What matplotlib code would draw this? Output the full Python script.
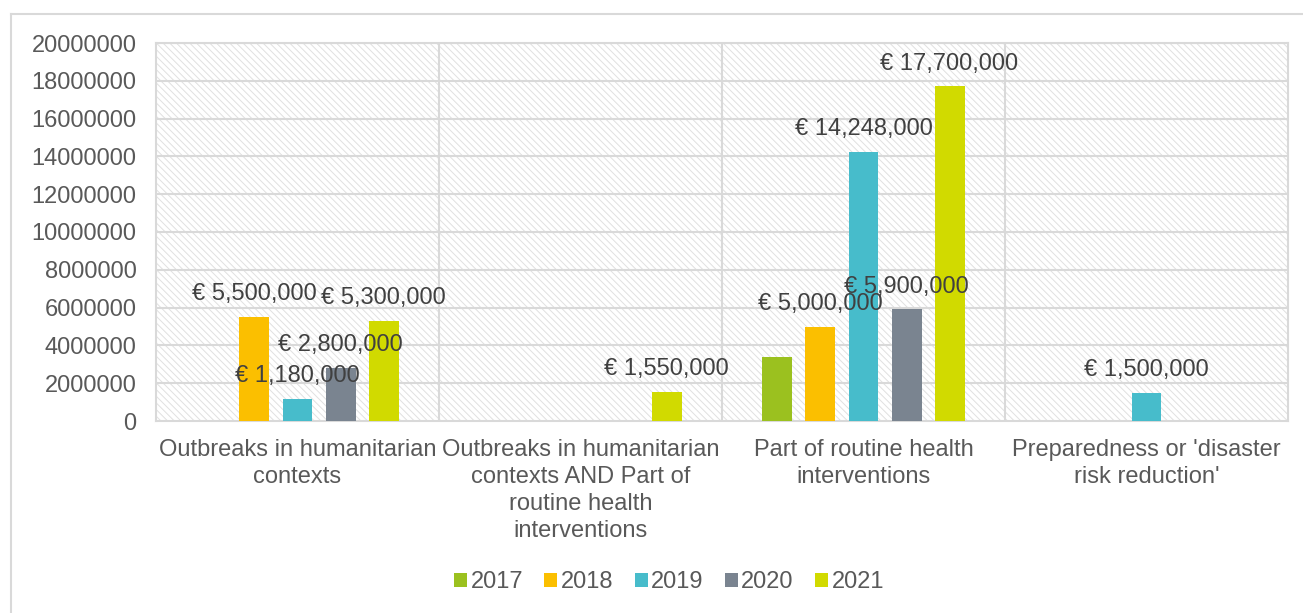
import numpy as np
import matplotlib
matplotlib.use('Agg')
import matplotlib.pyplot as plt
from matplotlib.lines import Line2D

plt.rcParams['font.family'] = ['Liberation Sans', 'DejaVu Sans']
plt.rcParams['hatch.color'] = '#e0e0e0'
plt.rcParams['hatch.linewidth'] = 0.7

categories = ["Outbreaks in humanitarian\ncontexts",
              "Outbreaks in humanitarian\ncontexts AND Part of\nroutine health\ninterventions",
              "Part of routine health\ninterventions",
              "Preparedness or 'disaster\nrisk reduction'"]
years = ['2017', '2018', '2019', '2020', '2021']
v2017 = [0, 0, 3400000, 0]
v2018 = [5500000, 0, 5000000, 0]
v2019 = [1180000, 0, 14248000, 1500000]
v2020 = [2800000, 0, 5900000, 0]
v2021 = [5300000, 1550000, 17700000, 0]
values = [v2017, v2018, v2019, v2020, v2021]
# the 2017 bar carries no label in the original
show_label = [False, True, True, True, True]
colors = ['#9BC11F', '#FBBF00', '#47BCCB', '#7A8490', '#D1DA00']

fs = 17

fig = plt.figure(figsize=(13.03, 6.13), dpi=100)
ax = fig.add_axes([156/1303, 192/613, 1132/1303, 378/613])

# outer frame (top and left only visible)
fig.add_artist(Line2D([11/1303, 11/1303], [0, 1 - 14/613], color='#d9d9d9', lw=1.5,
                      transform=fig.transFigure))
fig.add_artist(Line2D([11/1303, 1], [1 - 14/613, 1 - 14/613], color='#d9d9d9', lw=1.5,
                      transform=fig.transFigure))

ax.patch.set_facecolor('white')
ax.patch.set_hatch('\\\\\\\\\\')
ax.patch.set_edgecolor('#e0e0e0')
ax.patch.set_linewidth(0)

x = np.arange(len(categories))
step = 0.152
width = 0.106
for i, (yr, vals, col) in enumerate(zip(years, values, colors)):
    pos = x + (i - 2) * step
    ax.bar(pos, vals, width, color=col, label=yr, zorder=3)
    if show_label[i]:
        for p, v in zip(pos, vals):
            if v > 0:
                ax.annotate('€ {:,}'.format(v), (p, v), xytext=(0, 12),
                            textcoords='offset points', ha='center', va='baseline',
                            fontsize=fs, color='#404040', zorder=5)

ax.set_xlim(-0.5, 3.5)
ax.set_ylim(0, 20000000)
ax.set_yticks(np.arange(0, 20000001, 2000000))
ax.set_yticklabels([str(t) for t in range(0, 20000001, 2000000)])
ax.set_xticks(x)
ax.set_xticklabels(categories, linespacing=1.3)
ax.tick_params(axis='both', length=0, labelsize=fs, labelcolor='#595959')
ax.tick_params(axis='x', pad=13)
ax.tick_params(axis='y', pad=14)

for yv in range(2000000, 20000001, 2000000):
    ax.axhline(yv, color='#d9d9d9', lw=1.5, zorder=1)
for xv in [0.5, 1.5, 2.5]:
    ax.axvline(xv, color='#d9d9d9', lw=1.5, zorder=1)
for s in ax.spines.values():
    s.set_color('#d9d9d9')
    s.set_linewidth(1.5)

ax.legend(loc='center', bbox_to_anchor=(669/1303, 31/613), bbox_transform=fig.transFigure,
          ncol=5, frameon=False, fontsize=fs, handlelength=0.55, handleheight=0.55,
          handletextpad=0.15, columnspacing=0.9, labelcolor='#595959')

fig.savefig('out.png', dpi=100)
